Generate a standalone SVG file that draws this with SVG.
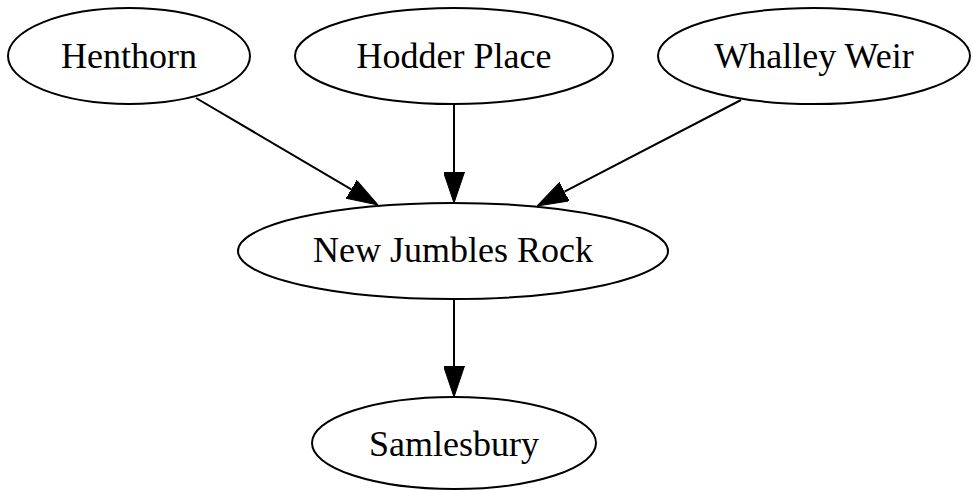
<svg xmlns="http://www.w3.org/2000/svg" width="973" height="490" viewBox="0 0 973 490">
  <style>
    .node ellipse { fill: #ffffff; stroke: #000000; stroke-width: 2; }
    .node text { font-family: "Liberation Serif", "Times New Roman", serif; font-size: 36px; fill: #000000; text-anchor: middle; }
    .edge { stroke: #000000; stroke-width: 2; fill: none; marker-end: url(#arrow); }
  </style>
  <defs>
    <marker id="arrow" markerUnits="userSpaceOnUse" viewBox="0 0 31 21" markerWidth="31" markerHeight="21" refX="0" refY="10.5" orient="auto">
      <path d="M0,0 L31,10.5 L0,21 Z" fill="#000000" stroke="#000000" stroke-width="1"/>
    </marker>
  </defs>
  <rect width="973" height="490" fill="#ffffff"/>

  <g id="edges">
    <line class="edge" x1="196" y1="98" x2="351.3" y2="189.3"/>
    <line class="edge" x1="454" y1="104" x2="454" y2="172"/>
    <line class="edge" x1="741" y1="100" x2="564.5" y2="191.7"/>
    <line class="edge" x1="454" y1="299" x2="454" y2="366"/>
  </g>

  <g id="henthorn" class="node">
    <ellipse cx="129" cy="56" rx="121" ry="48"/>
    <text x="129" y="68">Henthorn</text>
  </g>
  <g id="hodder-place" class="node">
    <ellipse cx="454" cy="56" rx="159" ry="48"/>
    <text x="454" y="68">Hodder Place</text>
  </g>
  <g id="whalley-weir" class="node">
    <ellipse cx="814" cy="56" rx="156" ry="48"/>
    <text x="814" y="68">Whalley Weir</text>
  </g>
  <g id="new-jumbles-rock" class="node">
    <ellipse cx="453" cy="251" rx="215" ry="48"/>
    <text x="453" y="262">New Jumbles Rock</text>
  </g>
  <g id="samlesbury" class="node">
    <ellipse cx="454" cy="443" rx="142" ry="46"/>
    <text x="454" y="456">Samlesbury</text>
  </g>
</svg>
